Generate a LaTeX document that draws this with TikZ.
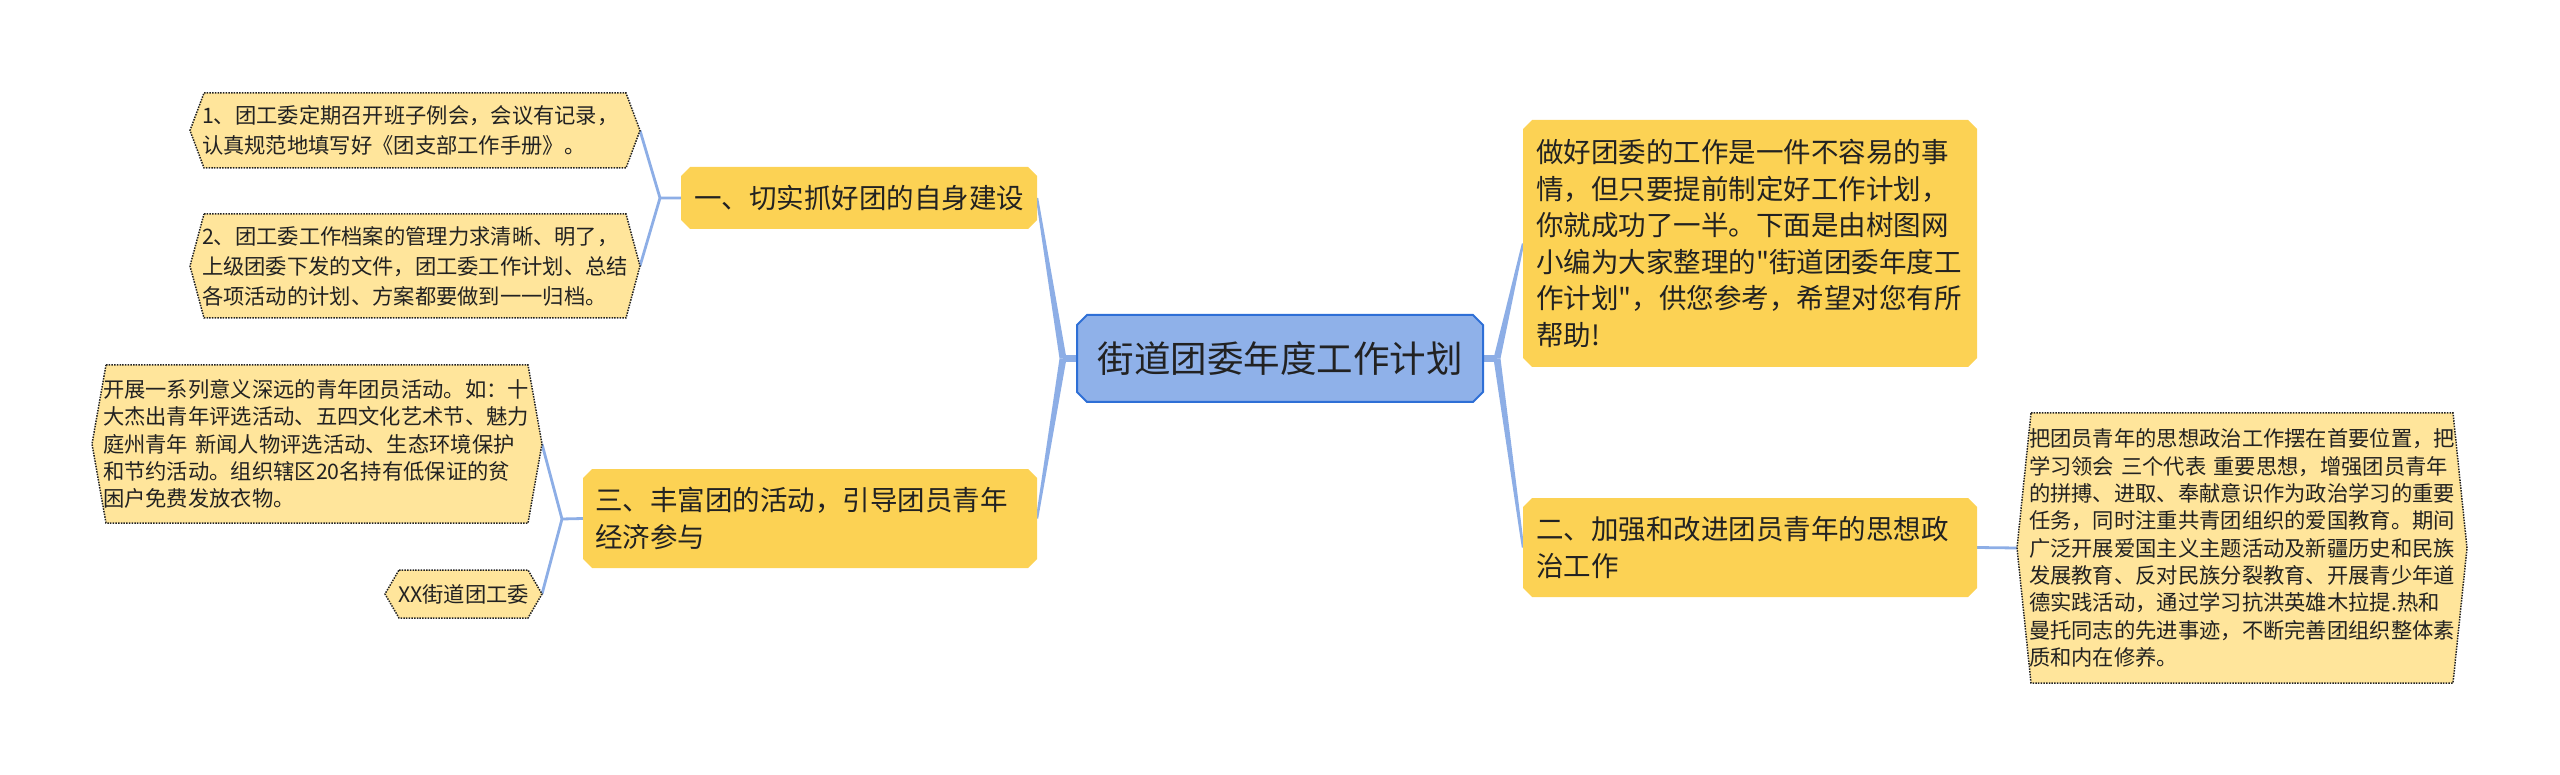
\documentclass[tikz,border=0pt]{standalone}
\usepackage{fontspec}
\newfontfamily\cjk{Noto Sans CJK SC}
\usetikzlibrary{backgrounds,calc}
\definecolor{connc}{HTML}{8DAEE6}
\definecolor{branchfill}{HTML}{FCD254}
\definecolor{leaffill}{HTML}{FFE59B}
\definecolor{leafline}{HTML}{222222}
\definecolor{rootfill}{HTML}{8FB1E9}
\definecolor{rootline}{HTML}{2E6FD6}
\definecolor{txt}{HTML}{222222}
\newcommand\chamfpath[2]{([xshift=#2]#1.north west) -- ([xshift=-#2]#1.north east) -- ([yshift=-#2]#1.north east) -- ([yshift=#2]#1.south east) -- ([xshift=-#2]#1.south east) -- ([xshift=#2]#1.south west) -- ([yshift=#2]#1.south west) -- ([yshift=-#2]#1.north west) -- cycle}
\newcommand\hexpath[2]{([xshift=#2]#1.north west) -- ([xshift=-#2]#1.north east) -- (#1.east) -- ([xshift=-#2]#1.south east) -- ([xshift=#2]#1.south west) -- (#1.west) -- cycle}
\newcommand\taper[2]{\fill[connc] let \p1=(#1), \p2=(#2) in (\x1-3.5pt,\y1) -- (\x2-1.2pt,\y2) -- (\x2+1.2pt,\y2) -- (\x1+3.5pt,\y1) -- cycle;}
\tikzset{
  every node/.style={inner sep=0pt, outer sep=0pt, text=txt},
  rootbox/.style={minimum width=406pt, minimum height=87pt, align=center,
    font=\cjk\fontsize{36.5pt}{42pt}\selectfont},
  branchbox/.style={align=left, font=\cjk\fontsize{27.5pt}{36.5pt}\selectfont},
  leafbox/.style={align=left, font=\cjk\fontsize{21.3pt}{27.3pt}\selectfont},
  leafwide/.style={leafbox, font=\cjk\fontsize{21.3pt}{30pt}\selectfont},
  connline/.style={draw=connc, line width=2.8pt},
  stub/.style={draw=connc, line width=7pt},
  rootshape/.style={fill=rootfill, draw=rootline, line width=2pt},
  branchshape/.style={fill=branchfill},
  leafshape/.style={fill=leaffill, draw=leafline, line width=1.5pt, dash pattern=on 1.5pt off 1.2pt},
}
\begin{document}
\begin{tikzpicture}[x=1pt,y=-1pt]
\useasboundingbox (0,0) rectangle (2560,775);
% root
\node[rootbox] (root) at (1280,358.5) {街道团委年度工作计划};
% branches
\node[branchbox, minimum width=356pt, minimum height=62pt, align=center] (b1) at (859,198) {一、切实抓好团的自身建设};
\node[branchbox, minimum width=454pt, minimum height=99pt, text width=430pt] (b3) at (810,518.5) {三、丰富团的活动，引导团员青年\\经济参与};
\node[branchbox, minimum width=454pt, minimum height=247pt, text width=428pt] (intro) at (1750,243.5) {做好团委的工作是一件不容易的事\\情，但只要提前制定好工作计划，\\你就成功了一半。下面是由树图网\\小编为大家整理的"街道团委年度工\\作计划"，供您参考，希望对您有所\\帮助!};
\node[branchbox, minimum width=454pt, minimum height=99pt, text width=428pt] (b2) at (1750,547.5) {二、加强和改进团员青年的思想政\\治工作};
% leaves
\node[leafwide, minimum width=450pt, minimum height=75pt, text width=426pt] (l1) at (415,130.5) {1、团工委定期召开班子例会，会议有记录，\\认真规范地填写好《团支部工作手册》。};
\node[leafwide, minimum width=450pt, minimum height=104pt, text width=426pt] (l2) at (415,266) {2、团工委工作档案的管理力求清晰、明了，\\上级团委下发的文件，团工委工作计划、总结\\各项活动的计划、方案都要做到一一归档。};
\node[leafbox, minimum width=450pt, minimum height=158pt, text width=428pt] (l3) at (317,444) {开展一系列意义深远的青年团员活动。如：十\\大杰出青年评选活动、五四文化艺术节、魅力\\庭州青年 新闻人物评选活动、生态环境保护\\和节约活动。组织辖区20名持有低保证的贫\\困户免费发放衣物。};
\node[leafbox, minimum width=157pt, minimum height=48pt, align=center] (l4) at (463.5,594) {XX街道团工委};
\node[leafbox, minimum width=450pt, minimum height=270pt, text width=426pt] (l6) at (2242,548) {把团员青年的思想政治工作摆在首要位置，把\\学习领会 三个代表 重要思想，增强团员青年\\的拼搏、进取、奉献意识作为政治学习的重要\\任务，同时注重共青团组织的爱国教育。期间\\广泛开展爱国主义主题活动及新疆历史和民族\\发展教育、反对民族分裂教育、开展青少年道\\德实践活动，通过学习抗洪英雄木拉提.热和\\曼托同志的先进事迹，不断完善团组织整体素\\质和内在修养。};
% junctions
\coordinate (jl) at (1063,358.5);
\coordinate (jr) at (1497,358.5);
\coordinate (j1) at (660,198);
\coordinate (j3) at (562,519);
\begin{pgfonlayer}{background}
  % connectors
  \draw[stub] (root.west) -- (jl);
  \draw[stub] (root.east) -- (jr);
  \taper{jl}{b1.east}
  \taper{jl}{b3.east}
  \taper{jr}{intro.west}
  \taper{jr}{b2.west}
  \draw[connline, line join=round] (l1.east) -- (j1) -- (b1.west);
  \draw[connline, line join=round] (l2.east) -- (j1);
  \draw[connline, line join=round] (l3.east) -- (j3) -- (b3.west);
  \draw[connline, line join=round] (l4.east) -- (j3);
  \draw[connline] (b2.east) -- (l6.west);
  % shapes
  \path[rootshape] \chamfpath{root}{10pt};
  \path[branchshape] \chamfpath{b1}{9pt};
  \path[branchshape] \chamfpath{b3}{9pt};
  \path[branchshape] \chamfpath{intro}{9pt};
  \path[branchshape] \chamfpath{b2}{9pt};
  \path[leafshape] \hexpath{l1}{14pt};
  \path[leafshape] \hexpath{l2}{14pt};
  \path[leafshape] \hexpath{l3}{14pt};
  \path[leafshape] \hexpath{l4}{14pt};
  \path[leafshape] \hexpath{l6}{14pt};
\end{pgfonlayer}
\end{tikzpicture}
\end{document}
